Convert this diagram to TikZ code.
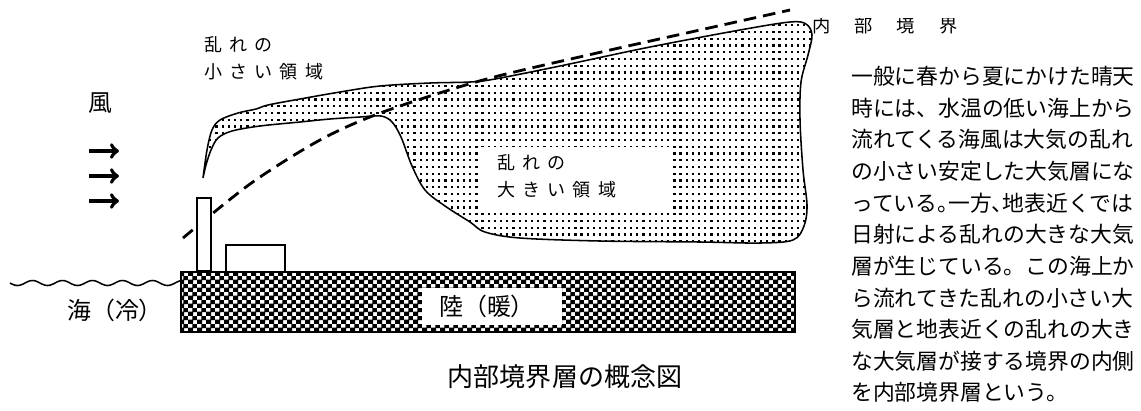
\documentclass[tikz,border=0pt]{standalone}
\usepackage{fontspec}
\usepackage{tikz}
\setmainfont{Noto Sans CJK JP}
\newfontfamily\spacedjp[LetterSpace=40]{Noto Sans CJK JP}
\usetikzlibrary{arrows, patterns}

\pgfdeclarepatternformonly{sparsedots}{\pgfqpoint{-1pt}{-1pt}}{\pgfqpoint{1pt}{1pt}}{\pgfqpoint{4.4pt}{4.8pt}}{
  \pgfpathrectangle{\pgfqpoint{-0.8pt}{-0.8pt}}{\pgfqpoint{1.6pt}{1.6pt}}
  \pgfusepath{fill}}
\pgfdeclarepatternformonly{landblocks}{\pgfqpoint{0pt}{0pt}}{\pgfqpoint{6.4pt}{5.6pt}}{\pgfqpoint{6.4pt}{5.6pt}}{
  \pgfpathrectangle{\pgfqpoint{0pt}{0pt}}{\pgfqpoint{3.7pt}{3.2pt}}
  \pgfpathrectangle{\pgfqpoint{3.2pt}{2.8pt}}{\pgfqpoint{3.7pt}{3.2pt}}
  \pgfusepath{fill}}

\begin{document}
\begin{tikzpicture}[x=0.025cm, y=-0.025cm]
    \tikzstyle{lbl} = [inner sep=0pt, font=\fontsize{17pt}{20pt}\selectfont]
    \tikzstyle{area} = [inner sep=0pt, align=left, font=\spacedjp\fontsize{12.8pt}{19.2pt}\selectfont]
    \tikzstyle{para} = [inner sep=0pt, align=left, font=\fontsize{15.5pt}{22.5pt}\selectfont]
    \tikzstyle{caption} = [inner sep=0pt, font=\fontsize{18.5pt}{22pt}\selectfont]
    \tikzstyle{wind} = [->, line width=2.8pt]

    \useasboundingbox (0,0) rectangle (1141,410);

    \draw[line width=1.1pt, pattern=sparsedots] plot[smooth, tension=0.55] coordinates {
      (203,178) (207,150) (212,130) (220,120) (238,113) (256,109) (268,105) (300,99)
      (340,92) (380,86) (430,83) (470,82) (495,79) (560,66) (650,47) (740,30)
      (790,22) (806,24) (812,35) (808,55) (801,82) (800,120) (803,170) (807,205)
      (804,226) (793,240) (760,243) (700,242) (600,241) (520,238) (485,232) (470,222)
      (445,206) (425,190) (412,166) (401,137) (392,122) (381,116) (360,117) (330,119)
      (300,122) (260,126) (232,131) (218,138) (211,150) (206,165) (203,178)} -- cycle;
    \fill[white] (480,147) rectangle (670,213);
    \node[area, anchor=west] (rough) at (497,176.5) {乱れの\\大きい領域};
    \node[area, anchor=west] (calm) at (204,58.5) {乱れの\\小さい領域};

    \draw[dash pattern=on 9pt off 5pt, line width=2pt] plot[smooth] coordinates {
      (183,238) (250,184) (320,140) (383,112) (483,80) (597,53) (700,30) (790,10)};

    \draw[line width=1.6pt, pattern=landblocks] (181,272) rectangle (795,332);
    \fill[white] (422,288) rectangle (562,325);
    \node[lbl] (land) at (487,306) {陸（暖）};

    \draw[line width=1.4pt, fill=white] (197,198) rectangle (211,271);
    \draw[line width=1.4pt, fill=white] (226,245) rectangle (285,272);

    \draw[line width=1.1pt] plot[domain=10:181, samples=120] (\x, {283+2.5*sin(12*(\x-10))});
    \node[lbl] (sea) at (115,310) {海（冷）};

    \node[lbl] (windlbl) at (100,103) {風};
    \foreach \y [count=\i] in {151,176,201} {
      \coordinate (w\i a) at (89,\y);
      \coordinate (w\i b) at (119,\y);
      \draw[wind] (w\i a) -- (w\i b);
    }

    \begin{scope}
      \clip (800,18) rectangle (1000,45);
      \node[inner sep=0pt, anchor=west, font=\fontsize{13pt}{15pt}\selectfont] (ibl) at (812,26)
        {内\hspace{0.6cm}部\hspace{0.6cm}境\hspace{0.6cm}界};
    \end{scope}

    \node[caption] (title) at (565,377) {内部境界層の概念図};

    \node[para, anchor=north west] (note) at (851,66) {一般に春から夏にかけた晴天\\
      時には、水温の低い海上から\\
      流れてくる海風は大気の乱れ\\
      の小さい安定した大気層にな\\
      っている\makebox[0.5em][l]{。}一方\makebox[0.5em][l]{、}地表近くでは\\
      日射による乱れの大きな大気\\
      層が生じている。この海上か\\
      ら流れてきた乱れの小さい大\\
      気層と地表近くの乱れの大き\\
      な大気層が接する境界の内側\\
      を内部境界層という。};
\end{tikzpicture}
\end{document}
